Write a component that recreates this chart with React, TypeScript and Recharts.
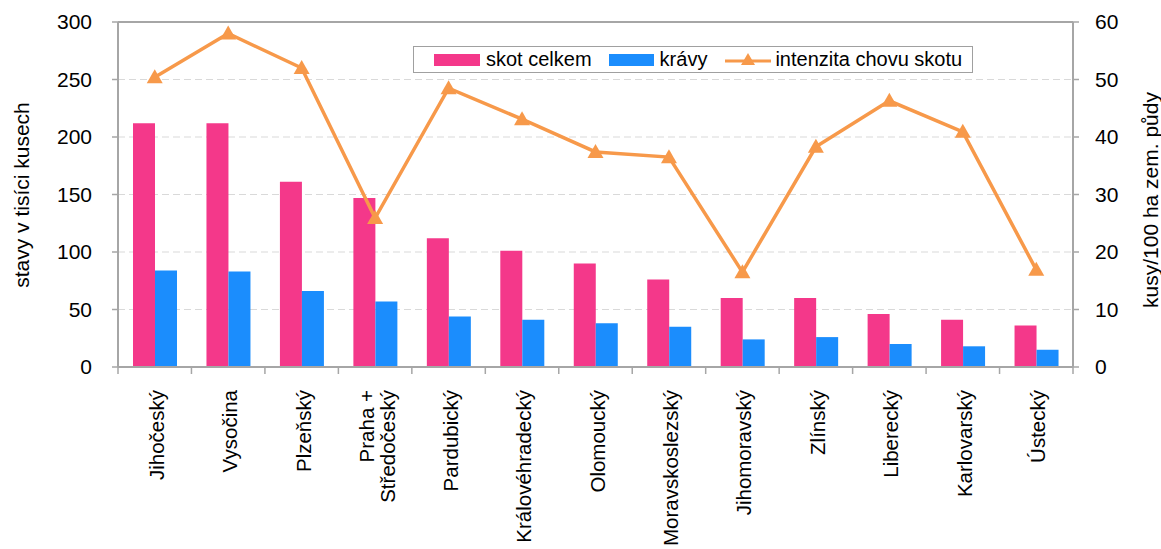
import {
  Bar,
  CartesianGrid,
  ComposedChart,
  Legend,
  Line,
  ReferenceLine,
  XAxis,
  YAxis,
} from "recharts";

const categories = [
  "Jihočeský",
  "Vysočina",
  "Plzeňský",
  "Praha +\nStředočeský",
  "Pardubický",
  "Královéhradecký",
  "Olomoucký",
  "Moravskoslezský",
  "Jihomoravský",
  "Zlínský",
  "Liberecký",
  "Karlovarský",
  "Ústecký",
];
const skotCelkem = [212, 212, 161, 147, 112, 101, 90, 76, 60, 60, 46, 41, 36];
const kravy = [84, 83, 66, 57, 44, 41, 38, 35, 24, 26, 20, 18, 15];
const intenzita = [50.4, 58, 52, 25.9, 48.5, 43.1, 37.4, 36.5, 16.5, 38.3, 46.3, 40.9, 16.9];
const leftTicks = [0, 50, 100, 150, 200, 250, 300];
const rightTicks = [0, 10, 20, 30, 40, 50, 60];

const data = categories.map((name, i) => ({
  name,
  skot: skotCelkem[i],
  kravy: kravy[i],
  intenzita: intenzita[i],
}));

const FONT = "'Liberation Sans', Arial, sans-serif";
const PINK = "#F4388A";
const BLUE = "#1B8DFD";
const ORANGE = "#F7994A";
const AXIS = "#A6A6A6";

const W = 1161;
const H = 549;
const LEFT_W = 118;
const RIGHT_W = 88;
const BAND = (W - LEFT_W - RIGHT_W) / categories.length;

function CategoryTick(props: any) {
  const { x, y, payload, index } = props;
  const lines = String(payload.value).split("\n");
  const lh = 21;
  return (
    <g>
      <line x1={x - BAND / 2} y1={y} x2={x - BAND / 2} y2={y + 7} stroke={AXIS} strokeWidth={1.5} />
      {index === categories.length - 1 && (
        <line x1={x + BAND / 2} y1={y} x2={x + BAND / 2} y2={y + 7} stroke={AXIS} strokeWidth={1.5} />
      )}
      <text
        transform={`translate(${x + 1},${y + 23}) rotate(-90)`}
        textAnchor="end"
        dominantBaseline="central"
        fontSize={20.5}
        fontFamily={FONT}
        fill="#000"
      >
        {lines.map((l, i) => (
          <tspan key={i} x={0} y={(i - (lines.length - 1) / 2) * lh}>
            {l}
          </tspan>
        ))}
      </text>
    </g>
  );
}

function Triangle(props: any) {
  const { cx, cy, index } = props;
  if (cx == null || cy == null) return <g key={index} />;
  return (
    <path
      key={index}
      d={`M${cx},${cy - 8} L${cx + 8},${cy + 6} L${cx - 8},${cy + 6} Z`}
      fill={ORANGE}
    />
  );
}

function LegendBox() {
  const item = { display: "flex", alignItems: "center" } as const;
  return (
    <div
      style={{
        display: "flex",
        alignItems: "center",
        border: "1.5px solid #A0A0A0",
        height: 27,
        padding: "0 0 0 20px",
        fontFamily: FONT,
        fontSize: 20,
        color: "#000",
        background: "#fff",
        boxSizing: "border-box",
        width: 560,
        whiteSpace: "nowrap",
      }}
    >
      <span style={item}>
        <span style={{ width: 46, height: 12, background: PINK, marginRight: 6 }} />
        skot celkem
      </span>
      <span style={{ ...item, marginLeft: 17 }}>
        <span style={{ width: 45, height: 12, background: BLUE, marginRight: 6 }} />
        krávy
      </span>
      <span style={{ ...item, marginLeft: 18 }}>
        <svg width={46} height={16} style={{ marginRight: 4 }}>
          <line x1={0} y1={9} x2={46} y2={9} stroke={ORANGE} strokeWidth={3} />
          <path d="M23,1 L30,13 L16,13 Z" fill={ORANGE} />
        </svg>
        intenzita chovu skotu
      </span>
    </div>
  );
}

export default function App() {
  return (
    <div style={{ position: "absolute", left: 0, top: 0, width: W, height: H, background: "#fff" }}>
      <ComposedChart
        width={W}
        height={H}
        data={data}
        margin={{ top: 22, right: 0, left: 0, bottom: 0 }}
        barGap={0}
        barSize={22}
      >
        <CartesianGrid yAxisId="left" vertical={false} stroke="#D9D9D9" strokeDasharray="7 4" />
        <XAxis
          dataKey="name"
          height={182}
          interval={0}
          tickSize={0}
          tickMargin={0}
          tickLine={false}
          tick={<CategoryTick />}
          axisLine={{ stroke: AXIS, strokeWidth: 2 }}
        />
        <YAxis
          yAxisId="left"
          orientation="left"
          width={LEFT_W}
          domain={[0, 300]}
          ticks={leftTicks}
          tickSize={6}
          tickMargin={20}
          axisLine={{ stroke: AXIS, strokeWidth: 2 }}
          tickLine={{ stroke: AXIS, strokeWidth: 1.5 }}
          tick={{ fontSize: 21, fontFamily: FONT, fill: "#000" }}
          label={() => (
            <text
              transform={`translate(21,195) rotate(-90)`}
              textAnchor="middle"
              dominantBaseline="central"
              fontSize={21}
              fontFamily={FONT}
              fill="#000"
            >
              stavy v tisíci kusech
            </text>
          )}
        />
        <YAxis
          yAxisId="right"
          orientation="right"
          width={RIGHT_W}
          domain={[0, 60]}
          ticks={rightTicks}
          tickSize={6}
          tickMargin={16}
          axisLine={{ stroke: AXIS, strokeWidth: 2 }}
          tickLine={{ stroke: AXIS, strokeWidth: 1.5 }}
          tick={{ fontSize: 21, fontFamily: FONT, fill: "#000" }}
          label={() => (
            <text
              transform={`translate(1150,200) rotate(-90)`}
              textAnchor="middle"
              dominantBaseline="central"
              fontSize={21}
              fontFamily={FONT}
              fill="#000"
            >
              kusy/100 ha zem. půdy
            </text>
          )}
        />
        <ReferenceLine yAxisId="left" y={300} stroke={AXIS} strokeWidth={2} />
        <Legend
          layout="horizontal"
          verticalAlign="middle"
          align="center"
          content={() => <LegendBox />}
          wrapperStyle={{ position: "absolute", left: 413, top: 46, width: 560, height: 27 }}
        />
        <Bar yAxisId="left" dataKey="skot" name="skot celkem" fill={PINK} isAnimationActive={false} />
        <Bar yAxisId="left" dataKey="kravy" name="krávy" fill={BLUE} isAnimationActive={false} />
        <Line
          yAxisId="right"
          dataKey="intenzita"
          name="intenzita chovu skotu"
          stroke={ORANGE}
          strokeWidth={3.5}
          dot={(p: any) => <Triangle {...p} />}
          activeDot={false}
          isAnimationActive={false}
        />
      </ComposedChart>
    </div>
  );
}
